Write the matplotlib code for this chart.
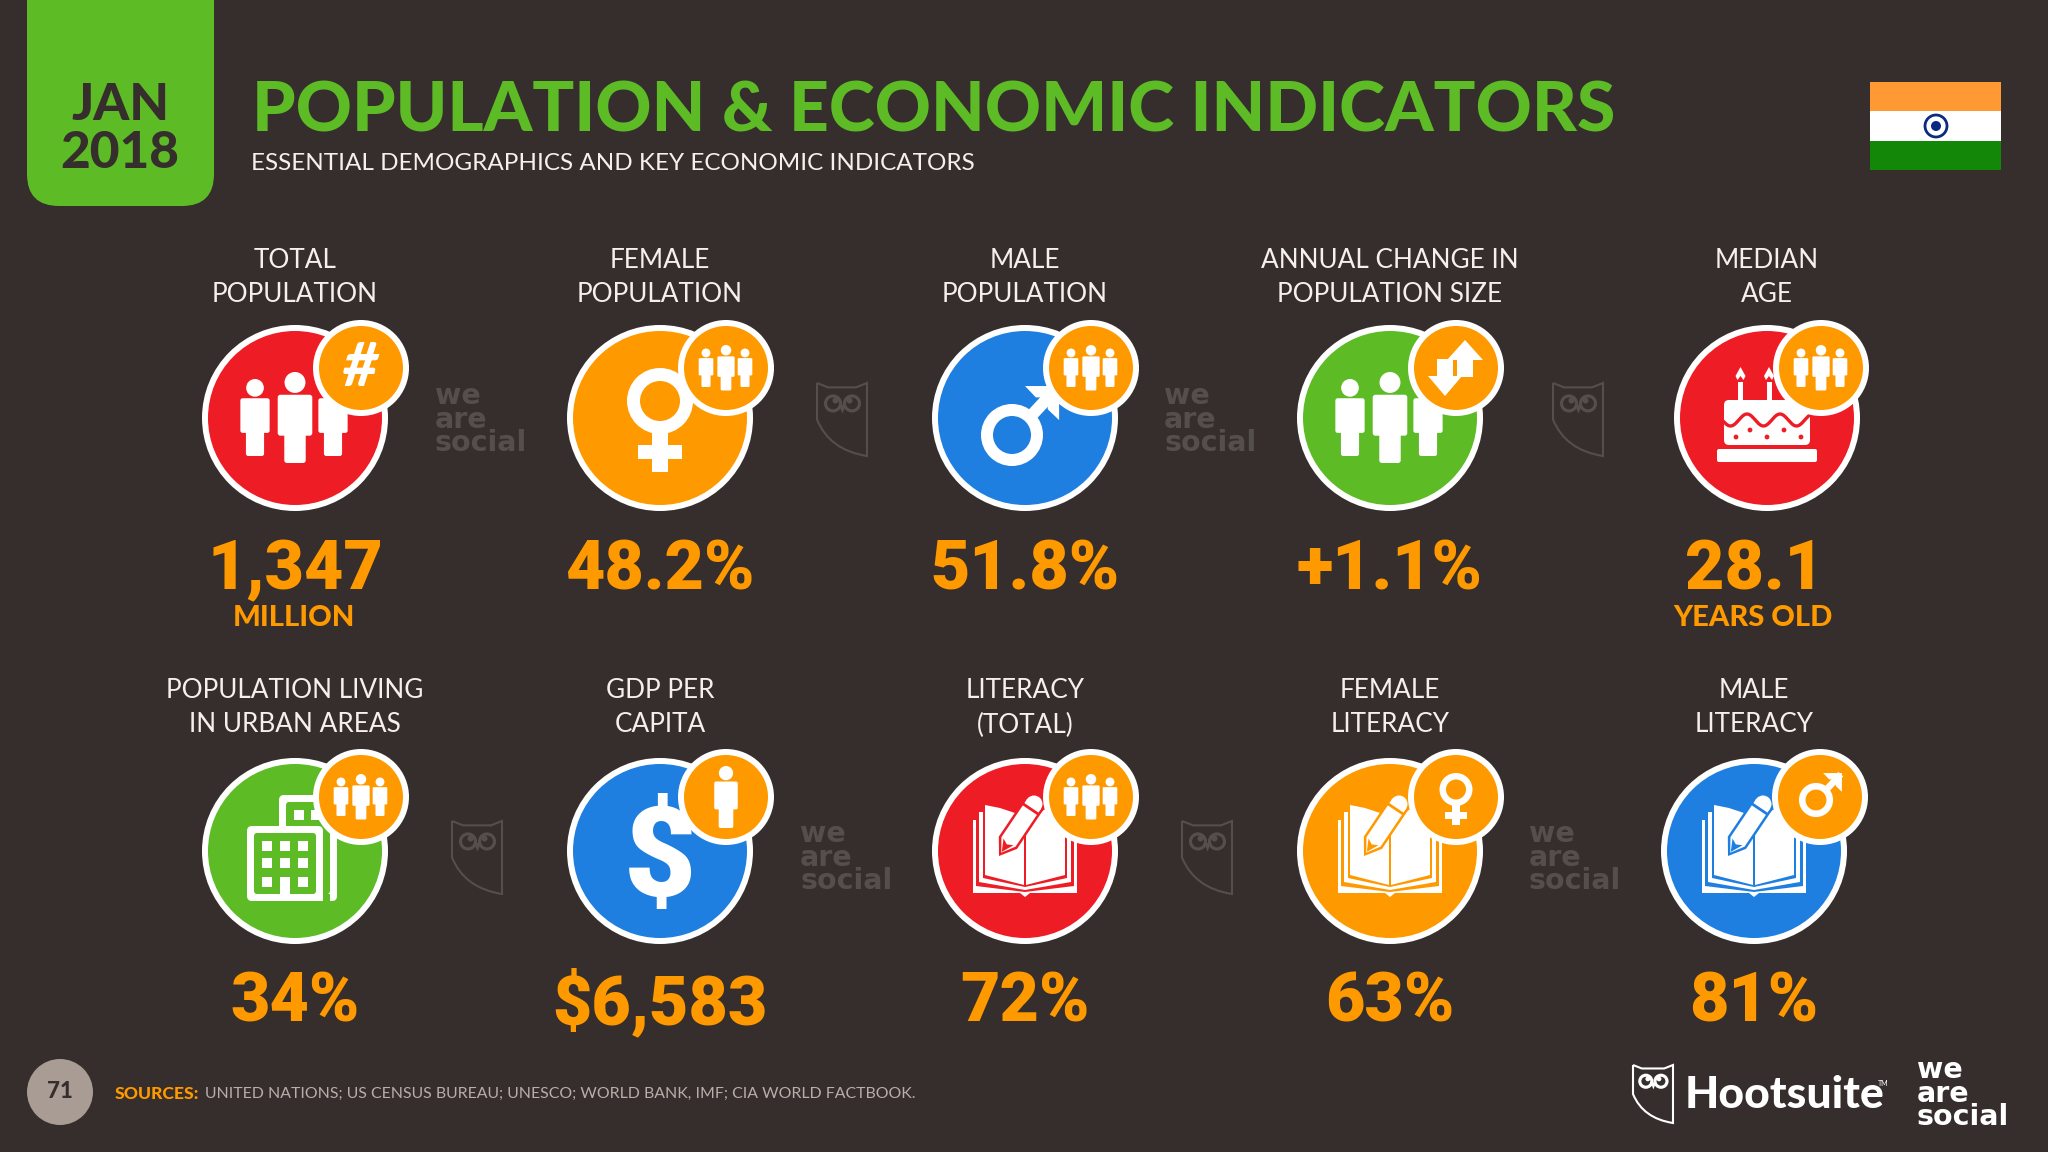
import matplotlib
matplotlib.use("Agg")
import matplotlib.pyplot as plt
from matplotlib.patches import Circle, Rectangle, FancyBboxPatch, Polygon, PathPatch
from matplotlib.path import Path
import numpy as np

# ---- content -------------------------------------------------------
title = "POPULATION & ECONOMIC INDICATORS"
subtitle = "ESSENTIAL DEMOGRAPHICS AND KEY ECONOMIC INDICATORS"
row1_labels = [("TOTAL", "POPULATION"), ("FEMALE", "POPULATION"), ("MALE", "POPULATION"),
               ("ANNUAL CHANGE IN", "POPULATION SIZE"), ("MEDIAN", "AGE")]
row1_values = ["1,347", "48.2%", "51.8%", "+1.1%", "28.1"]
row1_units = ["MILLION", "", "", "", "YEARS OLD"]
row2_labels = [("POPULATION LIVING", "IN URBAN AREAS"), ("GDP PER", "CAPITA"), ("LITERACY", "(TOTAL)"),
               ("FEMALE", "LITERACY"), ("MALE", "LITERACY")]
row2_values = ["34%", "$6,583", "72%", "63%", "81%"]
page_number = "71"
sources = "UNITED NATIONS; US CENSUS BUREAU; UNESCO; WORLD BANK, IMF; CIA WORLD FACTBOOK."

# ---- style ---------------------------------------------------------
BG = "#362E2C"; GREEN = "#5DBB26"; RED = "#EE1C25"; ORANGE = "#FF9900"; BLUE = "#1E7FE0"
WHITE = "#FFFFFF"; GHOST = "#544E4C"; TEXT = "#F4F0EE"
R_MAIN, R_BADGE = 93, 48

fig = plt.figure(figsize=(20.48, 11.52), dpi=100, facecolor=BG)
ax = fig.add_axes([0, 0, 1, 1])
ax.set_xlim(0, 2048); ax.set_ylim(1152, 0); ax.axis("off")

def txt(x, y, s, size, color=TEXT, weight="normal", ha="center", family="Lato", va="center", **kw):
    return ax.text(x, y, s, fontsize=size, color=color, fontweight=weight, ha=ha, va=va, family=family, **kw)

def poly(pts, color, z=5, **kw):
    ax.add_patch(Polygon(pts, closed=True, fc=color, ec="none", zorder=z, **kw))

def circ(x, y, r, color, z=5):
    ax.add_patch(Circle((x, y), r, fc=color, ec="none", zorder=z))

def rrect(x0, y0, x1, y1, rad, color, z=5):
    ax.add_patch(FancyBboxPatch((x0 + rad, y0 + rad), x1 - x0 - 2 * rad, y1 - y0 - 2 * rad,
                                boxstyle=f"round,pad={rad},rounding_size={rad}", fc=color, ec="none", zorder=z))

def person(cx, top, h, color=WHITE, z=5):
    w = h * 0.38
    circ(cx, top + h * 0.115, h * 0.115, color, z)
    rrect(cx - w / 2, top + h * 0.25, cx + w / 2, top + h * 0.70, h * 0.03, color, z)
    rrect(cx - w * 0.31, top + h * 0.60, cx + w * 0.31, top + h, h * 0.03, color, z)

def people(cx, cy, scale, color=WHITE, z=5):
    person(cx - 40 * scale, cy - 39 * scale, 77 * scale, color, z)
    person(cx + 38 * scale, cy - 39 * scale, 77 * scale, color, z)
    person(cx, cy - 46 * scale, 91 * scale, color, z)

def female(cx, cy, s, fg, bg, z=5):
    circ(cx, cy - 17 * s, 33 * s, fg, z)
    circ(cx, cy - 17 * s, 20 * s, bg, z)
    ax.add_patch(Rectangle((cx - 8 * s, cy + 13 * s), 16 * s, 41 * s, fc=fg, ec="none", zorder=z))
    ax.add_patch(Rectangle((cx - 22 * s, cy + 27 * s), 44 * s, 14 * s, fc=fg, ec="none", zorder=z))

def male(cx, cy, s, fg, bg, z=5):
    R = 31 * s
    lw = 12 * s
    tip = np.array([cx + R * 1.52, cy - R * 1.58])
    ax.plot([cx + R * 0.6, tip[0] - 2 * s], [cy - R * 0.6, tip[1] + 2 * s], color=fg, lw=lw * 0.72, zorder=z, solid_capstyle="butt")
    poly([tip, tip + [-R * 1.1, 0], tip + [-R * 0.75, lw * 0.95], tip + [-lw * 0.95, lw * 0.95],
          tip + [-lw * 0.95, R * 0.75], tip + [0, R * 1.1]], fg, z)
    circ(cx, cy, R, fg, z)
    circ(cx, cy, 19 * s, bg, z)

def arrows(cx, cy, color=WHITE, z=12):
    ux = cx + 9
    poly([(ux, cy - 28), (ux + 18, cy - 8), (ux + 8, cy - 8), (ux + 8, cy + 9), (ux - 8, cy + 9), (ux - 8, cy - 8), (ux - 18, cy - 8)], color, z)
    dx = cx - 11
    poly([(dx, cy + 28), (dx + 17, cy + 8), (dx + 8, cy + 8), (dx + 8, cy - 9), (dx - 8, cy - 9), (dx - 8, cy + 8), (dx - 17, cy + 8)], color, z)

def cake(cx, cy, fg, bg, z=5):
    for dx in (-26.5, 2):
        ax.add_patch(Rectangle((cx + dx - 2.5, cy - 36), 5, 20, fc=fg, ec="none", zorder=z))
        poly([(cx + dx, cy - 51), (cx + dx + 5, cy - 42), (cx + dx + 3, cy - 38), (cx + dx, cy - 42),
              (cx + dx - 3, cy - 38), (cx + dx - 5, cy - 42)], fg, z)
    rrect(cx - 43, cy - 18, cx + 43, cy + 27, 5, fg, z)
    rrect(cx - 50, cy + 31, cx + 50, cy + 44, 2, fg, z)
    xs = np.linspace(-43, 43, 140)
    ys = 2 - 6 * np.cos(2 * np.pi * (xs + 20) / 33)
    ax.plot(cx + xs, cy + ys, color=bg, lw=2.4, zorder=z + 0.1)
    for dx, dy in [(-31, 19), (-17, 12), (0, 19), (17, 12), (34, 19)]:
        circ(cx + dx, cy + dy, 2.4, bg, z + 0.1)

def building(cx, cy, fg, bg, z=5):
    rrect(cx - 16, cy - 56, cx + 42, cy + 50, 5, fg, z)
    rrect(cx - 9, cy - 49, cx + 35, cy + 43, 3, bg, z)
    ax.add_patch(Rectangle((cx - 1, cy - 41), 10, 10, fc=fg, ec="none", zorder=z + 0.1))
    ax.add_patch(Rectangle((cx + 16, cy - 41), 10, 10, fc=fg, ec="none", zorder=z + 0.1))
    ax.add_patch(Rectangle((cx + 28, cy + 43), 7, 7, fc=bg, ec="none", zorder=z + 0.1))
    rrect(cx - 48, cy - 25, cx + 28, cy + 50, 5, fg, z + 0.2)
    rrect(cx - 41, cy - 18, cx + 21, cy + 43, 3, bg, z + 0.3)
    for i, wx in enumerate((-33, -15, 3)):
        for j, wy in enumerate((-10, 7, 26)):
            if not (i == 1 and j == 2):
                ax.add_patch(Rectangle((cx + wx, cy + wy), 10, 10, fc=fg, ec="none", zorder=z + 0.4))
    ax.add_patch(Rectangle((cx - 15, cy + 26), 10, 19, fc=fg, ec="none", zorder=z + 0.4))

def book(cx, cy, fg, bg, z=5):
    bands = [[(-52, -31), (-49, -31), (-49, 35), (0, 41), (0, 46), (-5, 42), (-52, 42)],
             [(-46, -39), (-42, -39), (-42, 27), (0, 36), (0, 39), (-46, 31)],
             [(-40, -46), (-25, -43), (-10, -38), (-1, -28), (-1, 34), (-40, 24)]]
    for b in bands:
        poly([(cx + a, cy + c) for a, c in b], fg, z)
        poly([(cx - a, cy + c) for a, c in b], fg, z)
    tip = np.array([cx - 26, cy + 5]); end = np.array([cx + 9, cy - 47])
    d = (end - tip) / np.linalg.norm(end - tip); n = np.array([-d[1], d[0]])
    L = np.linalg.norm(end - tip)
    circ(end[0], end[1], 11, bg, z + 0.1); circ(end[0], end[1], 8.5, fg, z + 0.2)
    poly([tip, tip + d * 16 + n * 11, end + n * 11, end - n * 11, tip + d * 16 - n * 11], bg, z + 0.1)
    poly([tip + d * 4, tip + d * 17 + n * 8.5, end + n * 8.5, end - n * 8.5, tip + d * 17 - n * 8.5], fg, z + 0.2)
    p = tip + d * (L - 6)
    ax.plot([p[0] - n[0] * 9, p[0] + n[0] * 9], [p[1] - n[1] * 9, p[1] + n[1] * 9], color=bg, lw=2, zorder=z + 0.3)
    poly([tip + d * 5, tip + d * 17 + n * 6, tip + d * 14, tip + d * 17 - n * 6], bg, z + 0.3)

def owl(x, y, w, h, color, lw=1.5):
    v = [(0, 0), (.22, .06), (.78, .06), (1, 0), (1, 1), (.25, .92), (0, .5), (0, 0)]
    c = [Path.MOVETO, Path.LINETO, Path.LINETO, Path.LINETO, Path.LINETO, Path.CURVE3, Path.CURVE3, Path.LINETO]
    ax.add_patch(PathPatch(Path([(x + a * w, y + b * h) for a, b in v], c), fc="none", ec=color, lw=lw, zorder=4))
    for dx in (.32, .70):
        ax.add_patch(Circle((x + dx * w, y + .28 * h), .15 * w, fc="none", ec=color, lw=lw * 1.5, zorder=4))
        circ(x + (dx + .05 * (1 if dx < .5 else -1)) * w, y + .24 * h, .06 * w, color, 4)
    poly([(x + .44 * w, y + .30 * h), (x + .58 * w, y + .30 * h), (x + .51 * w, y + .42 * h)], color, 4)

def we_are_social(x, y, color, size=20.5, z=3):
    for word, off in zip(["we", "are", "social"], (0, 23.5, 47)):
        ax.text(x, y + off, word, fontsize=size, color=color, fontweight="bold", family="DejaVu Sans",
                ha="left", va="baseline", zorder=z)

def main_disc(cx, cy, color):
    circ(cx, cy, R_MAIN, WHITE, 2)
    circ(cx, cy, R_MAIN - 6, color, 2.1)

def badge(cx, cy):
    circ(cx, cy, R_BADGE, WHITE, 10)
    circ(cx, cy, R_BADGE - 6, ORANGE, 10.1)

# ---- header --------------------------------------------------------
rrect(27, -60, 214, 206, 32, GREEN, 2)
txt(120, 105, "JAN", 37, BG, "black")
txt(120, 154, "2018", 37, BG, "black")
txt(252, 112, title, 50, GREEN, "black", ha="left")
txt(251, 163, subtitle, 17.5, TEXT, "normal", ha="left")

fx0, fx1 = 1870, 2001
for y0, y1, c in ((82, 111, "#FF9933"), (111, 141, "#FFFFFF"), (141, 170, "#138808")):
    ax.add_patch(Rectangle((fx0, y0), fx1 - fx0, y1 - y0, fc=c, ec="none", zorder=2))
ax.add_patch(Circle((1936, 126), 11, fc="#FFFFFF", ec="#0B2A80", lw=2, zorder=3))
circ(1936, 126, 5, "#0B2A80", 3.1)

# ---- grid ----------------------------------------------------------
xs1 = [295, 660, 1025, 1390, 1767]
xs2 = [295, 660, 1025, 1390, 1754]
val_x = [295, 660, 1025, 1390, 1754]
badge_dx1 = [66, 66, 66, 66, 54]
cy1, cy2 = 418, 851

for (a, b), x in zip(row1_labels, xs1):
    txt(x, 261, a, 18.8); txt(x, 295, b, 18.8)
for (a, b), x in zip(row2_labels, xs2):
    txt(x, 691, a, 18.8); txt(x, 725, b, 18.8)
for v, u, x in zip(row1_values, row1_units, val_x):
    txt(x, 571, v, 49, ORANGE, "black", family="Roboto")
    if u:
        txt(x - 1, 618, u, 21, ORANGE, "black")
for v, x in zip(row2_values, val_x):
    txt(x, 1003, v, 49, ORANGE, "black", family="Roboto")

# row 1 icons
for x, dx, col in zip(xs1, badge_dx1, (RED, ORANGE, BLUE, GREEN, RED)):
    main_disc(x, cy1, col)
    badge(x + dx, cy1 - 50)
people(xs1[0], cy1, 1.0)
txt(xs1[0] + 66, cy1 - 50, "#", 44, WHITE, "black", style="italic", zorder=12)
female(xs1[1], cy1, 1.0, WHITE, ORANGE)
male(xs1[2] - 13, cy1 + 17, 1.0, WHITE, BLUE)
people(xs1[3], cy1, 1.0)
arrows(xs1[3] + 66, cy1 - 50)
cake(xs1[4], cy1, WHITE, RED)
for i in (1, 2, 4):
    people(xs1[i] + badge_dx1[i], cy1 - 50, 0.5, WHITE, 12)

# row 2 icons
for x, col in zip(xs2, (GREEN, BLUE, RED, ORANGE, BLUE)):
    main_disc(x, cy2, col)
    badge(x + 66, cy2 - 54)
building(xs2[0], cy2, WHITE, GREEN)
txt(xs2[1], cy2 + 11, "$", 90, WHITE, "black", family="Roboto", zorder=6)
person(xs2[1] + 66, cy2 - 54 - 31, 62, WHITE, 12)
book(xs2[2], cy2, WHITE, RED)
book(xs2[3], cy2, WHITE, ORANGE)
book(xs2[4], cy2, WHITE, BLUE)
people(xs2[0] + 66, cy2 - 54, 0.5, WHITE, 12)
people(xs2[2] + 66, cy2 - 54, 0.5, WHITE, 12)
female(xs2[3] + 66, cy2 - 53, 0.5, WHITE, ORANGE, 12)
male(xs2[4] + 62, cy2 - 51, 0.55, WHITE, ORANGE, 12)

# watermarks
for x in (435, 1164):
    we_are_social(x, 404, GHOST)
for x in (800, 1529):
    we_are_social(x, 842, GHOST)
for x in (817, 1553):
    owl(x, 383, 50, 73, GHOST)
for x in (452, 1182):
    owl(x, 821, 50, 73, GHOST)

# ---- footer --------------------------------------------------------
circ(60, 1092, 33, "#A89C94", 2)
txt(60, 1092, page_number, 16, BG, "black")
txt(115, 1094, "SOURCES:", 12.6, ORANGE, "black", ha="left")
txt(205, 1094, sources, 11.4, "#B8AFAA", "normal", ha="left")
owl(1633, 1065, 40, 58, WHITE, 1.5)
txt(1685, 1095, "Hootsuite", 32, WHITE, "black", ha="left")
txt(1878, 1083, "TM", 5, WHITE, "normal", ha="left")
we_are_social(1917, 1078, WHITE)

fig.savefig("out.png", dpi=100, facecolor=BG)
